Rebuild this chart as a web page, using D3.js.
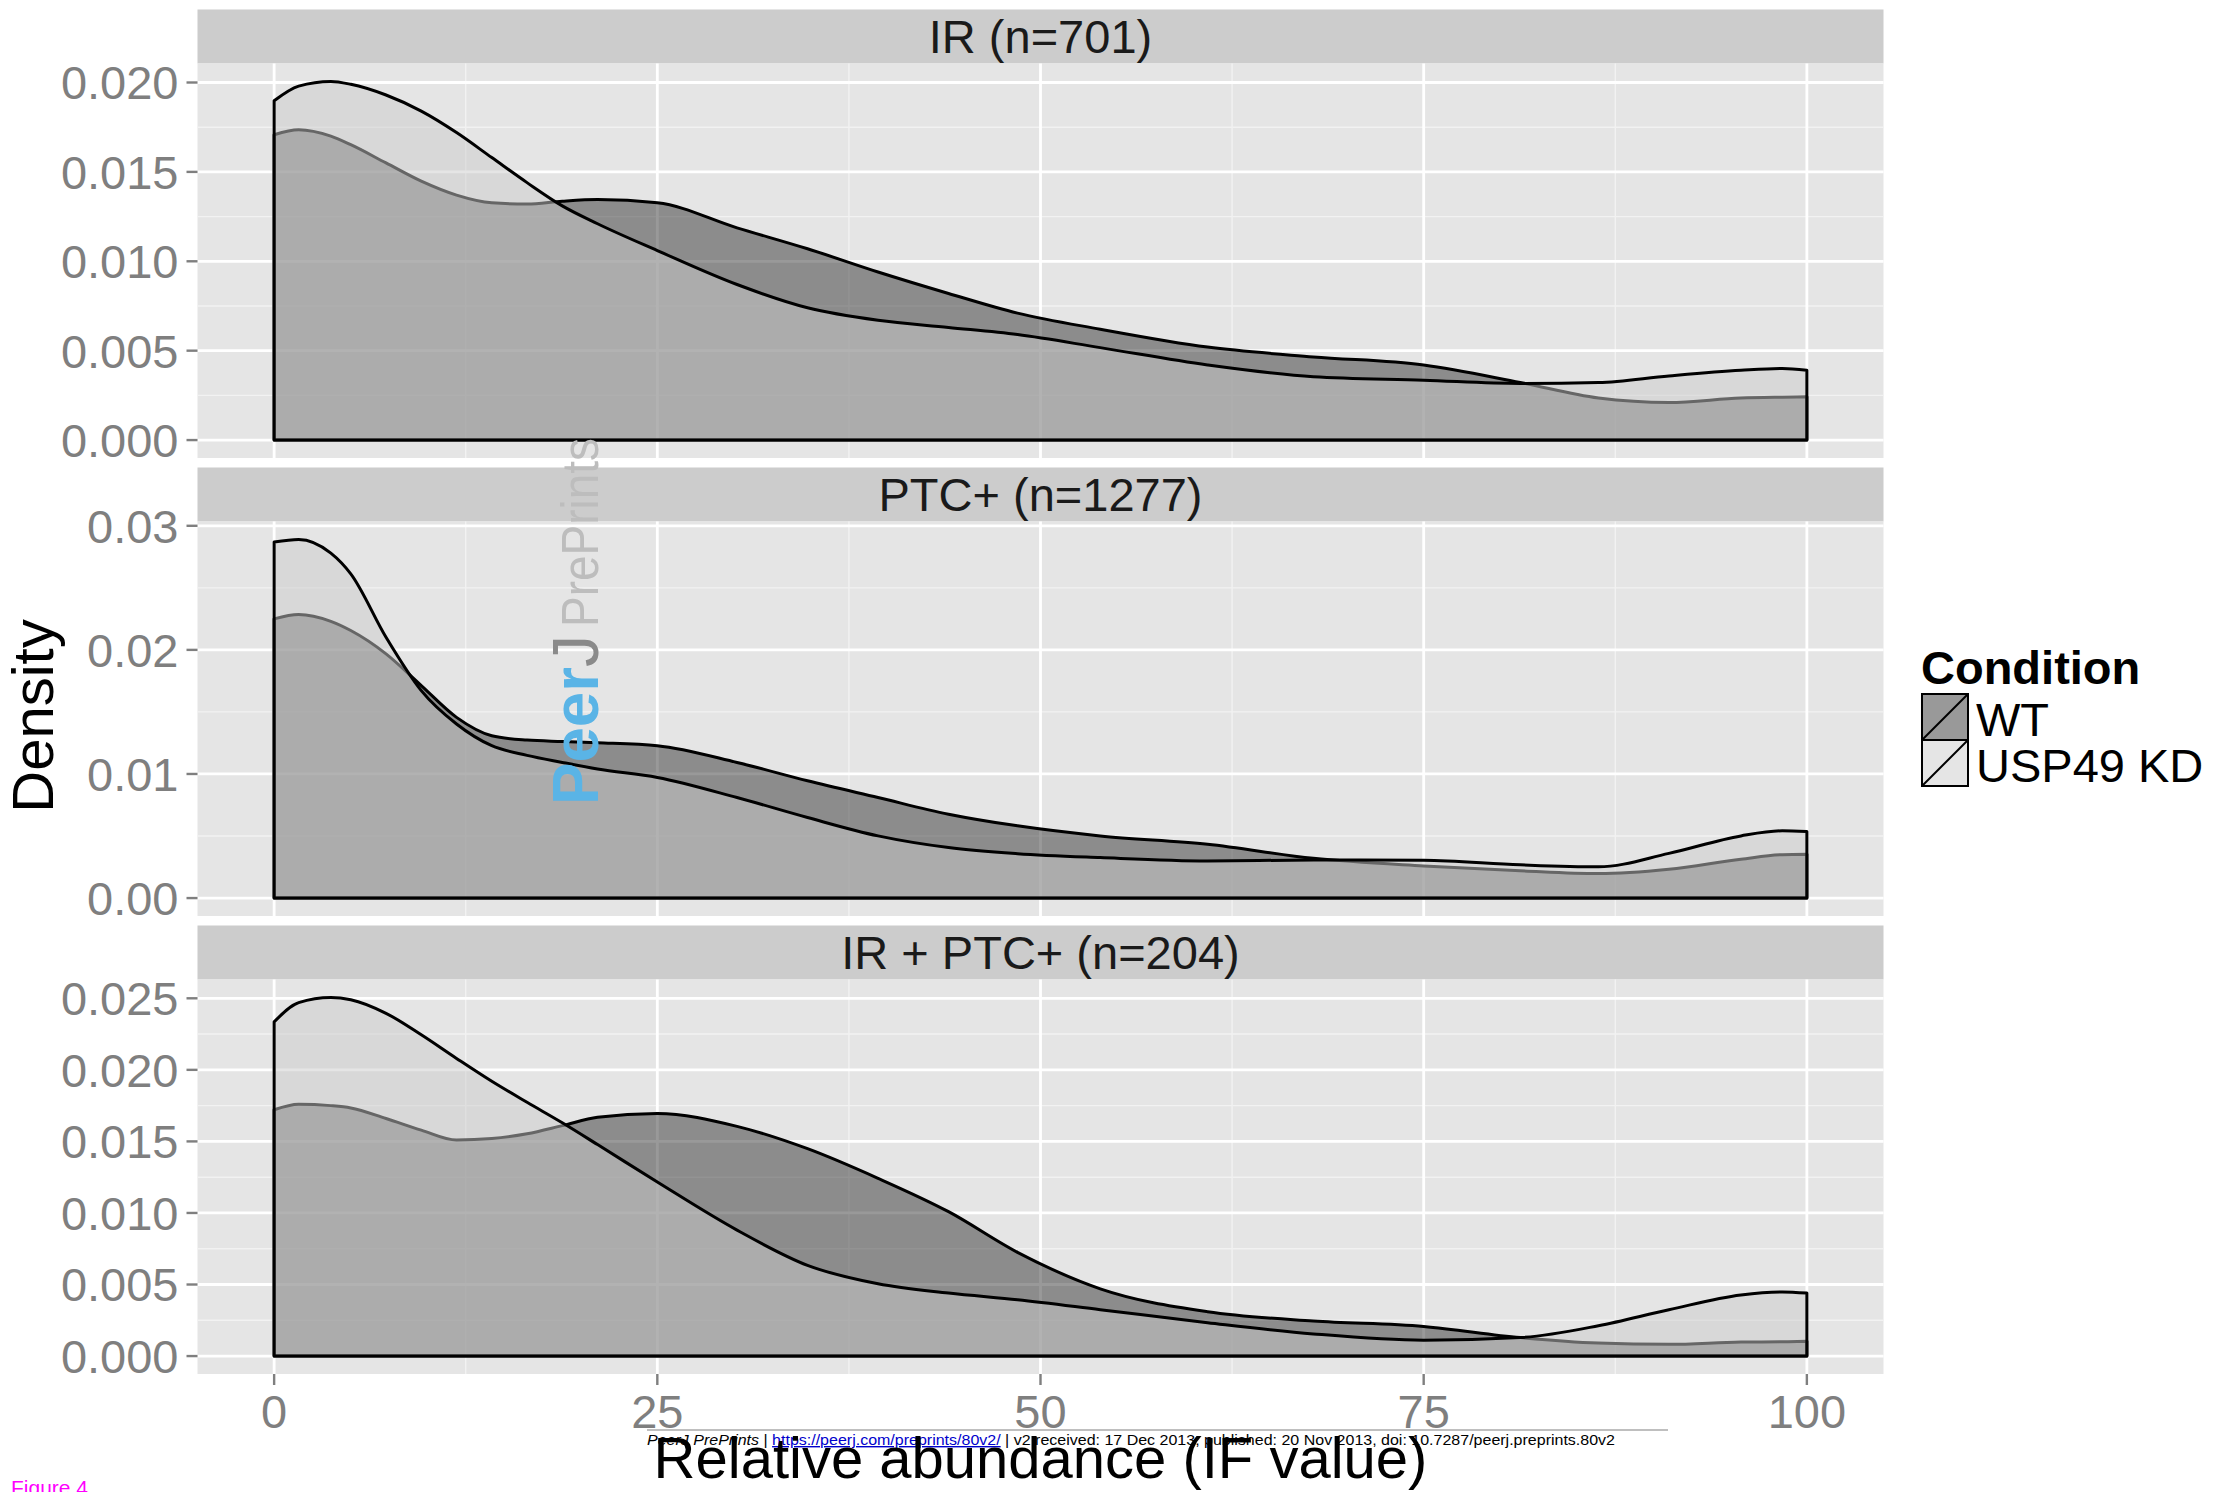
<!DOCTYPE html>
<html>
<head>
<meta charset="utf-8">
<script src="https://cdn.jsdelivr.net/npm/d3@7"></script>
<style>
  html, body { margin: 0; padding: 0; background: #ffffff; }
  svg { display: block; font-family: "Liberation Sans", Arial, Helvetica, sans-serif; }
</style>
</head>
<body>
<svg id="chart" width="2213" height="1492"></svg>
<script>
// ---------------- data ----------------
const conditions = ["WT", "USP49 KD"];
const panelTitles = ["IR (n=701)", "PTC+ (n=1277)", "IR + PTC+ (n=204)"];
const xGrid = [0, 1.6, 3.7, 5, 7.3, 9.6, 11.9, 14.2, 16.5, 18.8, 21.1, 25, 30.2, 34.8, 39.4, 44, 48.5, 53.9, 60.9, 67.8, 75, 81.3, 86.4, 91, 95.7, 98.4, 100];

const irWT   = [0.01708, 0.01736, 0.0170, 0.01652, 0.0155, 0.01448, 0.0137, 0.01327, 0.0132, 0.01336, 0.01345, 0.01327, 0.01187, 0.0107, 0.0094, 0.0082, 0.0071, 0.0062, 0.0052, 0.00465, 0.0042, 0.00322, 0.00235, 0.0021, 0.00235, 0.0024, 0.00242];
const irKD   = [0.01898, 0.0198, 0.02006, 0.0199, 0.0193, 0.0184, 0.0172, 0.0158, 0.0144, 0.0131, 0.0121, 0.0106, 0.0087, 0.0074, 0.0067, 0.0063, 0.0059, 0.00517, 0.0042, 0.00354, 0.00335, 0.00317, 0.00322, 0.00359, 0.0039, 0.004, 0.00391];
const ptcWT  = [0.0225, 0.02285, 0.0223, 0.02156, 0.01968, 0.01712, 0.01456, 0.01308, 0.01273, 0.01262, 0.01252, 0.01228, 0.01093, 0.00945, 0.0081, 0.00676, 0.00582, 0.00501, 0.00434, 0.0032, 0.00259, 0.0022, 0.00197, 0.00232, 0.00313, 0.0035, 0.00353];
const ptcKD  = [0.02869, 0.0289, 0.0278, 0.02613, 0.02102, 0.01672, 0.01403, 0.01228, 0.0115, 0.01093, 0.0104, 0.00972, 0.0081, 0.00649, 0.00501, 0.00407, 0.00358, 0.00326, 0.00299, 0.00307, 0.00305, 0.00268, 0.00252, 0.0036, 0.00501, 0.00542, 0.00536];
const bothWT = [0.01721, 0.0176, 0.0175, 0.01734, 0.0166, 0.01579, 0.0151, 0.0152, 0.01553, 0.0161, 0.01669, 0.01695, 0.01605, 0.01449, 0.01242, 0.01009, 0.00725, 0.0047, 0.0031, 0.00245, 0.00207, 0.00129, 0.00091, 0.00082, 0.00098, 0.001, 0.00103];
const bothKD = [0.02335, 0.0247, 0.02506, 0.0249, 0.02395, 0.02245, 0.0208, 0.0192, 0.01773, 0.0163, 0.01478, 0.01216, 0.0088, 0.00634, 0.00505, 0.0044, 0.00393, 0.00324, 0.00233, 0.00155, 0.00111, 0.00129, 0.00212, 0.00324, 0.00427, 0.00448, 0.0044];

const irTicks   = [0, 0.005, 0.010, 0.015, 0.020];
const ptcTicks  = [0, 0.01, 0.02, 0.03];
const bothTicks = [0, 0.005, 0.010, 0.015, 0.020, 0.025];
const irTickLabels   = ["0.000", "0.005", "0.010", "0.015", "0.020"];
const ptcTickLabels  = ["0.00", "0.01", "0.02", "0.03"];
const bothTickLabels = ["0.000", "0.005", "0.010", "0.015", "0.020", "0.025"];
const xTicks = [0, 25, 50, 75, 100];
const xTickLabels = ["0", "25", "50", "75", "100"];

// ---------------- layout ----------------
const svg = d3.select("#chart");
const L = 197.5, R = 1883.5;
const stripH = 54, plotH = 394.5;
const stripTops = [9.5, 467.5, 925.5];
const fills = ["#333333", "#cccccc"];   // scale_fill_grey
const fillAlpha = 0.5;
const panelBg = "#e5e5e5";
const tickGrey = "#7f7f7f";

const panels = [
  { title: panelTitles[0], series: [irWT, irKD], ticks: irTicks, labels: irTickLabels },
  { title: panelTitles[1], series: [ptcWT, ptcKD], ticks: ptcTicks, labels: ptcTickLabels },
  { title: panelTitles[2], series: [bothWT, bothKD], ticks: bothTicks, labels: bothTickLabels }
];

const x = d3.scaleLinear().domain([-5, 105]).range([L, R]);

panels.forEach((p, i) => {
  const sTop = stripTops[i];
  const pTop = sTop + stripH;
  const pBot = pTop + plotH;
  const ymax = d3.max(p.series.flat());
  const pad = ymax * 0.05;
  const y = d3.scaleLinear().domain([-pad, ymax + pad]).range([pBot, pTop]);

  const g = svg.append("g");
  // strip
  g.append("rect").attr("x", L).attr("y", sTop).attr("width", R - L).attr("height", stripH).attr("fill", "#cccccc");
  g.append("text").attr("x", (L + R) / 2).attr("y", sTop + stripH / 2).attr("dy", "0.36em")
    .attr("text-anchor", "middle").attr("font-size", 47).attr("fill", "#1a1a1a").text(p.title);
  // panel bg
  g.append("rect").attr("x", L).attr("y", pTop).attr("width", R - L).attr("height", plotH).attr("fill", panelBg);

  // minor grid
  const minorY = [];
  for (let k = 0; k < p.ticks.length - 1; k++) minorY.push((p.ticks[k] + p.ticks[k + 1]) / 2);
  const stepY = p.ticks[1] - p.ticks[0];
  const lastMinor = p.ticks[p.ticks.length - 1] + stepY / 2;
  if (lastMinor <= ymax + pad) minorY.push(lastMinor);
  g.selectAll(".minY").data(minorY).enter().append("line")
    .attr("x1", L).attr("x2", R).attr("y1", d => y(d)).attr("y2", d => y(d))
    .attr("stroke", "#f2f2f2").attr("stroke-width", 1.4);
  const minorX = [12.5, 37.5, 62.5, 87.5];
  g.selectAll(".minX").data(minorX).enter().append("line")
    .attr("y1", pTop).attr("y2", pBot).attr("x1", d => x(d)).attr("x2", d => x(d))
    .attr("stroke", "#f2f2f2").attr("stroke-width", 1.4);
  // major grid
  g.selectAll(".majY").data(p.ticks).enter().append("line")
    .attr("x1", L).attr("x2", R).attr("y1", d => y(d)).attr("y2", d => y(d))
    .attr("stroke", "#ffffff").attr("stroke-width", 2.8);
  g.selectAll(".majX").data(xTicks).enter().append("line")
    .attr("y1", pTop).attr("y2", pBot).attr("x1", d => x(d)).attr("x2", d => x(d))
    .attr("stroke", "#ffffff").attr("stroke-width", 2.8);

  // densities
  const area = d3.area()
    .x((d, j) => x(xGrid[j]))
    .y0(y(0))
    .y1(d => y(d))
    .curve(d3.curveMonotoneX);
  p.series.forEach((s, k) => {
    g.append("path").attr("d", area(s))
      .attr("fill", fills[k]).attr("fill-opacity", fillAlpha)
      .attr("stroke", "#000").attr("stroke-width", 3).attr("stroke-linejoin", "round");
  });

  // y axis
  const yAxis = g.append("g");
  p.ticks.forEach((t, k) => {
    yAxis.append("line").attr("x1", L - 11).attr("x2", L).attr("y1", y(t)).attr("y2", y(t))
      .attr("stroke", tickGrey).attr("stroke-width", 2.4);
    yAxis.append("text").attr("x", L - 19).attr("y", y(t)).attr("dy", "0.36em")
      .attr("text-anchor", "end").attr("font-size", 47).attr("fill", tickGrey).text(p.labels[k]);
  });

  if (i === panels.length - 1) {
    xTicks.forEach((t, k) => {
      g.append("line").attr("x1", x(t)).attr("x2", x(t)).attr("y1", pBot).attr("y2", pBot + 11)
        .attr("stroke", tickGrey).attr("stroke-width", 2.4);
      g.append("text").attr("x", x(t)).attr("y", 1428).attr("text-anchor", "middle")
        .attr("font-size", 47).attr("fill", tickGrey).text(xTickLabels[k]);
    });
  }
});

// axis titles
svg.append("text").attr("transform", "translate(53,716) rotate(-90)").attr("text-anchor", "middle")
  .attr("font-size", 58).attr("fill", "#000").text("Density");

// footer (PeerJ)
svg.append("line").attr("x1", 647).attr("x2", 1668).attr("y1", 1430).attr("y2", 1430)
  .attr("stroke", "#aaaaaa").attr("stroke-width", 1.5);
const foot = svg.append("text").attr("x", 647).attr("y", 1445).attr("font-size", 14).attr("fill", "#000")
  .attr("textLength", 968).attr("lengthAdjust", "spacingAndGlyphs");
foot.append("tspan").attr("font-style", "italic").text("PeerJ PrePrints");
foot.append("tspan").text(" | ");
foot.append("tspan").attr("fill", "#0000cc").attr("text-decoration", "underline").text("https://peerj.com/preprints/80v2/");
foot.append("tspan").text(" | v2 received: 17 Dec 2013, published: 20 Nov 2013, doi: 10.7287/peerj.preprints.80v2");

svg.append("text").attr("x", (L + R) / 2).attr("y", 1478).attr("text-anchor", "middle")
  .attr("font-size", 58).attr("fill", "#000").text("Relative abundance (IF value)");

// legend
svg.append("text").attr("x", 1921).attr("y", 684).attr("font-size", 47).attr("font-weight", "bold")
  .attr("fill", "#000").text("Condition");
const keyY = [694, 740], keyS = 46, keyX = 1922;
conditions.forEach((c, k) => {
  const kg = svg.append("g");
  kg.append("rect").attr("x", keyX).attr("y", keyY[k]).attr("width", keyS).attr("height", keyS).attr("fill", "#ffffff");
  kg.append("rect").attr("x", keyX).attr("y", keyY[k]).attr("width", keyS).attr("height", keyS)
    .attr("fill", fills[k]).attr("fill-opacity", fillAlpha).attr("stroke", "#000").attr("stroke-width", 2);
  kg.append("line").attr("x1", keyX).attr("y1", keyY[k] + keyS).attr("x2", keyX + keyS).attr("y2", keyY[k])
    .attr("stroke", "#000").attr("stroke-width", 2);
  kg.append("text").attr("x", keyX + keyS + 8).attr("y", keyY[k] + keyS - 4).attr("font-size", 47)
    .attr("fill", "#000").text(c);
});

// watermark
svg.append("text").attr("transform", "translate(598,805) rotate(-90)").attr("font-size", 64)
  .attr("font-weight", "bold").attr("fill", "#5ab4e6").attr("textLength", 138)
  .attr("lengthAdjust", "spacingAndGlyphs").text("Peer");
svg.append("text").attr("transform", "translate(598,667) rotate(-90)").attr("font-size", 64)
  .attr("fill", "#8a8a8a").text("J");
svg.append("text").attr("transform", "translate(598,627) rotate(-90)").attr("font-size", 52)
  .attr("fill", "#bdbdbd").attr("textLength", 189).attr("lengthAdjust", "spacingAndGlyphs").text("PrePrints");

// figure label
svg.append("text").attr("x", 11).attr("y", 1495).attr("font-size", 21).attr("fill", "#ff00ff").text("Figure 4");
</script>
</body>
</html>
